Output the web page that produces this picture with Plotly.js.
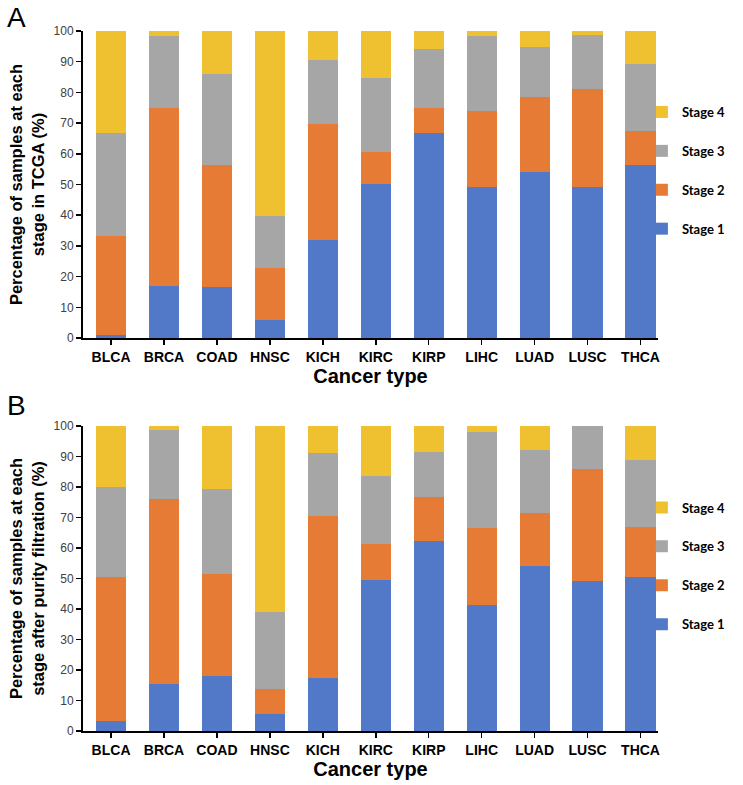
<!DOCTYPE html>
<html>
<head>
<meta charset="utf-8">
<script src="https://cdn.plot.ly/plotly-3.0.1.min.js"></script>
<style>html,body{margin:0;padding:0;background:#fff;}</style>
</head>
<body>
<div id="chart" style="width:743px;height:785px;"></div>
<script>
const categories = ['BLCA','BRCA','COAD','HNSC','KICH','KIRC','KIRP','LIHC','LUAD','LUSC','THCA'];
const stageNames = ['Stage 1','Stage 2','Stage 3','Stage 4'];

// Panel A: percentage of samples at each stage in TCGA
const tcgaStage1 = [0.9,17.1,16.5,6.0,31.9,50.2,66.7,49.1,54.1,49.1,56.3];
const tcgaStage2 = [32.4,57.8,39.7,16.8,37.9,10.5,8.2,24.9,24.4,32.0,11.1];
const tcgaStage3 = [33.4,23.5,29.9,17.1,20.8,23.9,19.2,24.4,16.3,17.6,21.9];
const tcgaStage4 = [33.3,1.6,13.9,60.1,9.4,15.4,5.9,1.6,5.2,1.3,10.7];

// Panel B: after purity filtration
const purStage1 = [3.4,15.3,17.9,5.6,17.4,49.5,62.4,41.4,54.2,49.1,50.6];
const purStage2 = [47.0,60.9,33.7,8.3,53.1,11.8,14.3,25.2,17.4,36.8,16.4];
const purStage3 = [29.7,22.5,27.6,25.0,20.5,22.4,14.8,31.5,20.4,14.1,21.9];
const purStage4 = [19.9,1.3,20.8,61.1,9.0,16.3,8.5,1.9,8.0,0.0,11.1];

const colors = ['#5179C8','#E67B35','#A6A6A6','#EFC131'];

const tcga = [tcgaStage1,tcgaStage2,tcgaStage3,tcgaStage4];
const pur = [purStage1,purStage2,purStage3,purStage4];

const traces = [];
tcga.forEach((vals,i)=>{
  traces.push({type:'bar', x:categories, y:vals, name:stageNames[i], xaxis:'x', yaxis:'y',
    marker:{color:colors[i], line:{width:0}}, legend:'legend', legendgroup:'a'+i, legendrank:4-i, hoverinfo:'name+y'});
});
pur.forEach((vals,i)=>{
  traces.push({type:'bar', x:categories, y:vals, name:stageNames[i], xaxis:'x2', yaxis:'y2',
    marker:{color:colors[i], line:{width:0}}, legend:'legend2', legendgroup:'b'+i, legendrank:4-i, hoverinfo:'name+y'});
});

const tickFontX = {family:'Liberation Sans, Arial, sans-serif', size:14, color:'#000', weight:'bold'};
const tickFontY = {family:'Liberation Sans, Arial, sans-serif', size:12, color:'#404040'};
const xTitleFont = {family:'Liberation Sans, Arial, sans-serif', size:20, color:'#000', weight:'bold'};
const yTitleFont = {family:'Liberation Sans, Arial, sans-serif', size:16.5, color:'#000', weight:'bold'};
const legFont = {family:'Lato, Carlito, sans-serif', size:13, color:'#000', weight:'bold'};

function xAxis(anchor){
  return {anchor:anchor, domain:[0,1], range:[-0.53,10.33], type:'category',
    showline:true, linecolor:'#000', linewidth:2, ticks:'outside', ticklen:5, tickwidth:1.5, tickcolor:'#000',
    showgrid:false, zeroline:false, tickfont:tickFontX, fixedrange:true,
    title:{text:'Cancer type', font:xTitleFont, standoff:4}};
}
function yAxis(anchor, domain, title){
  return {anchor:anchor, domain:domain, range:[0,100], dtick:10, tick0:0,
    showline:true, linecolor:'#000', linewidth:2, ticks:'outside', ticklen:5, tickwidth:1.5, tickcolor:'#000',
    showgrid:false, zeroline:false, tickfont:tickFontY, fixedrange:true,
    title:{text:title, font:yTitleFont, standoff:5}};
}
function legendCfg(yc){
  return {x:0.972, xanchor:'left', y:yc, yanchor:'middle', font:legFont, bgcolor:'rgba(0,0,0,0)',
    traceorder:'grouped', tracegroupgap:19, itemwidth:30};
}

const layout = {
  width:743, height:785,
  margin:{l:83, r:67, t:31, b:54},
  paper_bgcolor:'#fff', plot_bgcolor:'#fff',
  barmode:'stack', bargap:0.43,
  showlegend:true,
  xaxis:xAxis('y'),
  yaxis:yAxis('x',[0.5614,1],'Percentage of samples at each<br>stage in TCGA (%)'),
  xaxis2:xAxis('y2'),
  yaxis2:yAxis('x2',[0,0.4357],'Percentage of samples at each<br>stage after purity filtration (%)'),
  legend:legendCfg(0.8007),
  legend2:legendCfg(0.2357),
  annotations:[
    {text:'A', xref:'paper', yref:'paper', x:-0.135, y:1.044, xanchor:'left', yanchor:'top', showarrow:false,
     font:{family:'Liberation Sans, Arial, sans-serif', size:28, color:'#000'}},
    {text:'B', xref:'paper', yref:'paper', x:-0.135, y:0.49, xanchor:'left', yanchor:'top', showarrow:false,
     font:{family:'Liberation Sans, Arial, sans-serif', size:28, color:'#000'}}
  ]
};

Plotly.newPlot('chart', traces, layout, {displayModeBar:false, staticPlot:true});
</script>
</body>
</html>
